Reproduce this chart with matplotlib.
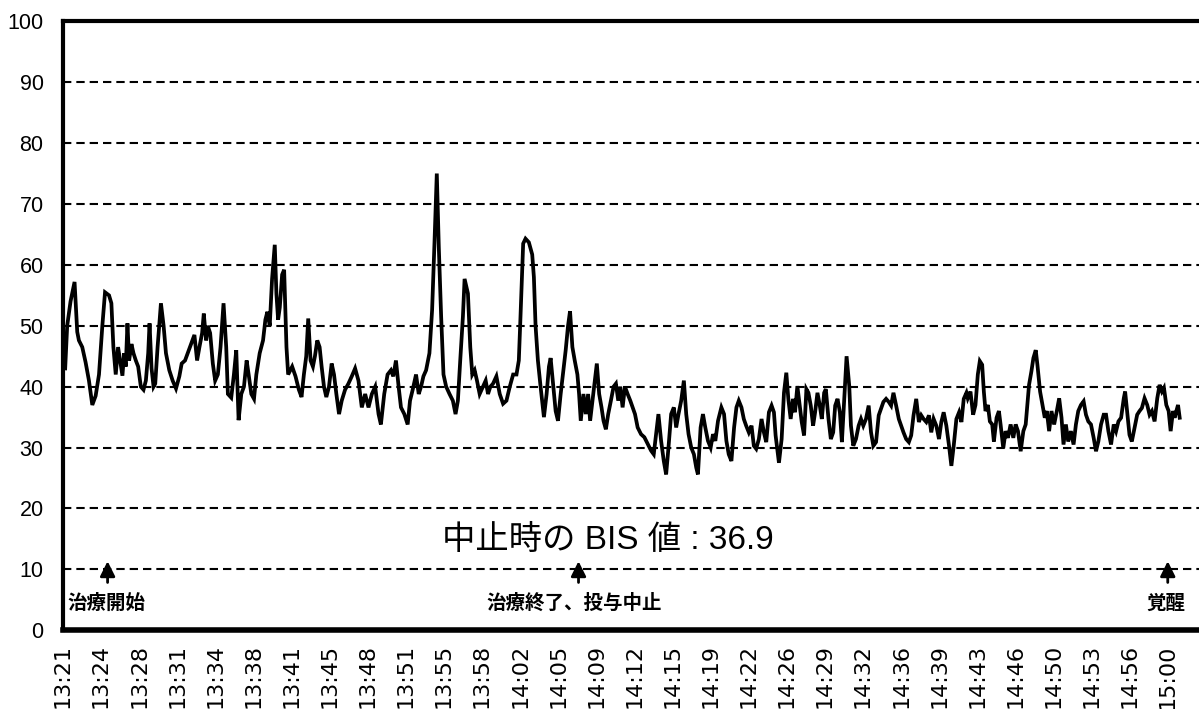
import numpy as np
import matplotlib
matplotlib.use('Agg')
import matplotlib.pyplot as plt

plt.rcParams['font.family'] = ['Liberation Sans', 'Noto Sans CJK JP', 'DejaVu Sans']

# minutes after 13:21 and BIS value
minutes = [
    0.2, 0.38, 0.68, 1.04, 1.28, 1.43, 1.73, 2.03, 2.33, 2.63, 2.93, 3.23, 3.53, 3.77, 4.13, 4.34,
    4.52, 4.73, 4.94, 5.12, 5.33, 5.48, 5.63, 5.78, 5.93, 6.14, 6.32, 6.53, 6.74, 6.98, 7.22, 7.43,
    7.64, 7.76, 7.94, 8.12, 8.27, 8.48, 8.78, 9.02, 9.23, 9.53, 9.83, 10.13, 10.43, 10.64, 10.94,
    11.18, 11.48, 11.78, 12.02, 12.23, 12.47, 12.62, 12.83, 12.98, 13.19, 13.43, 13.64, 13.88,
    14.12, 14.39, 14.63, 14.78, 15.08, 15.32, 15.53, 15.74, 15.98, 16.22, 16.46, 16.64, 16.88,
    17.12, 17.33, 17.63, 17.93, 18.14, 18.32, 18.53, 18.74, 18.98, 19.13, 19.28, 19.43, 19.64,
    19.82, 20.03, 20.18,
    20.54, 20.84, 21.14, 21.38, 21.59, 21.80, 21.98, 22.19, 22.40, 22.58, 22.79, 23.00, 23.18,
    23.39, 23.60, 23.84, 24.08, 24.29, 24.50, 24.74, 24.98, 25.28, 25.58, 25.88, 26.18, 26.48,
    26.78, 27.08, 27.38, 27.68, 27.98, 28.28, 28.49, 28.79, 29.09, 29.39, 29.60, 29.84, 30.08,
    30.29, 30.59, 30.89, 31.10, 31.34, 31.64, 31.88, 32.09, 32.30, 32.54, 32.84, 33.08, 33.29,
    33.50, 33.68, 33.89, 34.10, 34.34, 34.64, 34.94, 35.18, 35.39, 35.60, 35.84, 35.99, 36.29,
    36.50, 36.68, 36.89, 37.10, 37.34, 37.64, 37.88, 38.09, 38.30, 38.54, 38.84, 39.14, 39.44,
    39.74, 40.04, 40.34, 40.64,
    40.85, 41.00, 41.24, 41.45, 41.75, 42.05, 42.20, 42.35, 42.56, 42.80, 43.10, 43.34, 43.55,
    43.70, 43.94, 44.15, 44.36, 44.60, 44.84, 45.05, 45.26, 45.44, 45.65, 45.86, 46.10, 46.25,
    46.40, 46.64, 46.85, 47.06, 47.24, 47.45, 47.66, 47.84, 48.05, 48.26, 48.44, 48.65, 48.86,
    49.10, 49.34, 49.55, 49.76, 49.94, 50.15, 50.36, 50.60, 50.84, 51.05, 51.26, 51.50, 51.80,
    52.10, 52.40, 52.70, 52.94, 53.15, 53.36, 53.60, 53.84, 54.05, 54.26, 54.50, 54.74, 54.95,
    55.16, 55.40, 55.64, 55.85, 56.06, 56.30, 56.54, 56.75, 56.90, 57.14, 57.35, 57.56, 57.80,
    58.04, 58.25, 58.46, 58.70, 59.00, 59.24, 59.45, 59.66, 59.90, 60.14, 60.35, 60.56, 60.80,
    61.01, 61.22, 61.46, 61.70, 61.91, 62.12, 62.36, 62.60, 62.81, 63.02, 63.26, 63.50, 63.71,
    63.86, 64.01, 64.16, 64.40, 64.61, 64.82, 65.00, 65.21, 65.42, 65.60, 65.81, 66.02, 66.20,
    66.41, 66.62, 66.80, 67.01, 67.22, 67.40, 67.61, 67.82, 68.00, 68.21, 68.36, 68.60, 68.81,
    69.02, 69.20, 69.41, 69.62, 69.80, 70.01, 70.22, 70.46, 70.61, 70.82, 71.06, 71.30, 71.51,
    71.72, 71.96, 72.20, 72.41, 72.62, 72.86, 73.10, 73.31, 73.52, 73.76, 74.00, 74.21, 74.42,
    74.66, 74.90, 75.11, 75.32, 75.56, 75.80, 76.01, 76.22, 76.46, 76.70, 76.91, 77.12, 77.36,
    77.60, 77.81, 78.02, 78.26, 78.50, 78.71, 78.92, 79.16, 79.40, 79.61, 79.82, 80.06, 80.30,
    80.51, 80.72, 80.96,
    81.08, 81.32, 81.56, 81.77, 81.98, 82.16, 82.37, 82.52, 82.67, 82.88, 83.06, 83.27, 83.42,
    83.66, 83.87, 84.02, 84.26, 84.47, 84.68, 84.92, 85.16, 85.37, 85.58, 85.82, 86.06, 86.27,
    86.57, 86.78, 86.96, 87.17, 87.32, 87.56, 87.77, 87.98, 88.16, 88.37, 88.58, 88.82, 89.06,
    89.27, 89.48, 89.66, 89.87, 90.08, 90.32, 90.56, 90.77, 90.98, 91.22, 91.46, 91.67, 91.88,
    92.12, 92.36, 92.57, 92.78, 93.02, 93.26, 93.47, 93.68, 93.92, 94.16, 94.37, 94.58, 94.82,
    95.06, 95.18, 95.36, 95.57, 95.78, 96.02, 96.26, 96.47, 96.68, 96.92, 97.16, 97.37, 97.58,
    97.82, 98.06, 98.27, 98.48, 98.66, 98.87, 99.08, 99.26, 99.47, 99.62, 99.77, 99.92, 100.07,
]
bis = [
    43, 50, 54, 57.2, 49, 47.6, 46.5, 44, 41, 37, 38.5, 42, 50, 55.5, 55, 53.7,
    46.5, 42, 46.5, 44.3, 41.8, 45.5, 43.3, 50.4, 44.3, 47, 45.5, 44.3, 43.3, 40, 39.5, 41,
    45.5, 50.4, 43, 40, 40.5, 46.5, 53.7, 50, 45.5, 42.7, 41, 39.7, 41.7, 43.8, 44.3,
    45.5, 47, 48.5, 44.3, 46.5, 48.8, 52, 47.6, 50, 48.8, 43.8, 41, 42,
    46.5, 53.7, 46.5, 38.8, 38.2, 42, 46, 34.5, 38.8, 40, 44.3, 42, 38.8,
    38, 42, 45.5, 47.6, 51, 52.3, 50, 57.7, 63.3, 55.2, 51, 53, 58.4,
    59.2, 46.5, 42,
    43.3, 41.7, 39.5, 38.3, 42, 45, 51.2, 44.3, 43.3, 45, 47.6, 46.5, 43.3,
    40, 38.3, 40, 43.8, 42, 38.8, 35.5, 37.7, 39.5, 40.5, 41.7, 43, 41,
    36.6, 38.8, 36.6, 38.8, 40, 35.5, 33.8, 38.8, 42, 42.7, 41.7, 44.3, 40,
    36.6, 35.5, 33.8, 37.7, 39.5, 42, 38.8, 40, 41.7, 42.7, 45.5, 52.6, 63.5,
    75, 62.9, 51.5, 42, 40, 38.8, 37.7, 35.5, 37.7, 44.3, 51.5, 57.7, 55.3,
    46.5, 42, 42.7, 41, 38.8, 40, 41, 38.8, 40, 40.5, 41.7, 38.8, 37.2,
    37.7, 40, 42, 42,
    44.3, 51.5, 63.5, 64.3, 63.7, 61.7, 58, 50, 44.3, 40, 35, 38.8, 43.3,
    44.7, 40, 36, 34.4, 38.8, 42.7, 46, 50, 52.4, 46.5, 44.3, 42, 38.8,
    34.4, 38.8, 35.5, 38.8, 34.4, 37.7, 41, 43.8, 38.8, 36.6, 34.4, 33, 35.5,
    37.7, 40, 40.5, 37.7, 40, 36.6, 40, 38.8, 37.7, 36.6, 35.5, 33.3, 32.2,
    31.7, 30.6, 29.5, 28.9, 32.2, 35.5, 31.1, 27.8, 25.6, 30, 35.5, 36.6, 33.3,
    35.5, 37.7, 41, 35.5, 32.2, 30, 28.9, 26.7, 25.6, 33.3, 35.5, 33.3, 31.1,
    30, 32.2, 31.1, 34.4, 36.6, 35.5, 31.1, 28.9, 27.8, 33.3, 36.6, 37.7, 36.6,
    34.7, 33.6, 32.5, 33.6, 30.3, 29.8, 31.4, 34.7, 32.5, 30.9, 35.8, 36.9, 35.8,
    32, 29.8, 27.5, 31.4, 39, 42.3, 38, 34.7, 38, 35.8, 40.1, 36.9, 34.2,
    32, 39.6, 39, 36.9, 33.6, 35.8, 39, 36.9, 34.7, 39, 39.6, 34.7, 31.4,
    32.5, 36.9, 38, 35.8, 30.9, 38, 45, 40.1, 33.6, 30.3, 31.4, 33.6, 34.7,
    33.6, 34.7, 36.9, 32.5, 30.3, 30.9, 35.3, 36.4, 37.5, 38, 37.5, 36.9, 39,
    36.9, 34.7, 33.6, 32.5, 31.4, 30.9, 32, 35.3, 38, 34.2, 35.3, 34.7, 34.2,
    35.3, 32.5, 34.7, 33.6, 31.4, 34.2, 35.8, 33.6, 30.3, 27, 30.3, 34.7, 35.8,
    34.2, 38, 39,
    38.1, 39.2, 35.4, 37, 42, 44.2, 43.6, 39.2, 36, 37, 34.3, 33.8, 31,
    34.9, 36, 33.8, 29.9, 32.7, 31.6, 33.8, 31.6, 33.8, 32.7, 29.4, 32.7, 33.8,
    40.3, 42.5, 44.7, 46, 43.6, 39.2, 37, 34.9, 36, 32.7, 36, 33.8, 36,
    38.1, 34.9, 30.5, 33.8, 31, 32.7, 30.5, 33.8, 36, 37, 37.6, 35.4, 34.3,
    33.8, 31.6, 29.4, 31, 33.8, 35.4, 35.4, 32.7, 30.5, 33.8, 32.7, 34.3, 34.9,
    38.1, 39.2, 36, 32.1, 31, 33.2, 35.4, 36, 36.5, 38.1, 37, 35.4, 36,
    34.3, 38.1, 40.3, 39.2, 39.8, 37, 36, 32.7, 36, 34.9, 36, 37, 34.9,
]

tick_labels = ['13:21', '13:24', '13:28', '13:31', '13:34', '13:38', '13:41', '13:45',
               '13:48', '13:51', '13:55', '13:58', '14:02', '14:05', '14:09', '14:12',
               '14:15', '14:19', '14:22', '14:26', '14:29', '14:32', '14:36', '14:39',
               '14:43', '14:46', '14:50', '14:53', '14:56', '15:00']
tick_step = 99 / (len(tick_labels) - 1)

# events: minute of arrow, label, where the label sits and how it is aligned
event_min = [4.0, 46.2, 99.0]
event_text = ['治療開始', '治療終了、投与中止', '覚醒']
event_label_x = [0.4, 45.8, 98.8]
event_ha = ['left', 'center', 'center']

fig = plt.figure(figsize=(11.99, 7.09), dpi=100)
ax = fig.add_axes([0.0525, 0.111, 0.9475, 0.859])

ax.plot(minutes, bis, color='black', lw=2.7, solid_joinstyle='miter')

ax.set_xlim(0, 101.8)
ax.set_ylim(0, 100)
ax.set_yticks(range(0, 101, 10))
ax.set_xticks([i * tick_step for i in range(len(tick_labels))])
ax.set_xticklabels(tick_labels, rotation=90, fontsize=16, family=['DejaVu Sans'])
ax.tick_params(axis='y', length=0, pad=14, labelsize=15.5)
ax.tick_params(axis='x', length=0, pad=10)

for yv in range(10, 100, 10):
    ax.axhline(yv, color='black', lw=1.5, ls=(0, (4, 2.4)), zorder=1)

for sp in ['top', 'left']:
    ax.spines[sp].set_linewidth(3)
ax.spines['bottom'].set_linewidth(4)
ax.spines['right'].set_visible(False)

for t, lab, lx, ha in zip(event_min, event_text, event_label_x, event_ha):
    ax.annotate('', xy=(t, 11.8), xytext=(t, 7.4),
                arrowprops=dict(arrowstyle='-|>,head_length=0.9,head_width=0.45',
                                color='black', lw=2))
    ax.text(lx, 4.4, lab, fontsize=14, fontweight='bold', ha=ha, va='center',
            family=['Noto Sans CJK JP'])
ax.text(48.8, 14.8, '中止時の BIS 値 : 36.9', fontsize=24, ha='center', va='center',
        family=['Liberation Sans', 'Noto Sans CJK JP'])

fig.savefig('out.png', dpi=100)
